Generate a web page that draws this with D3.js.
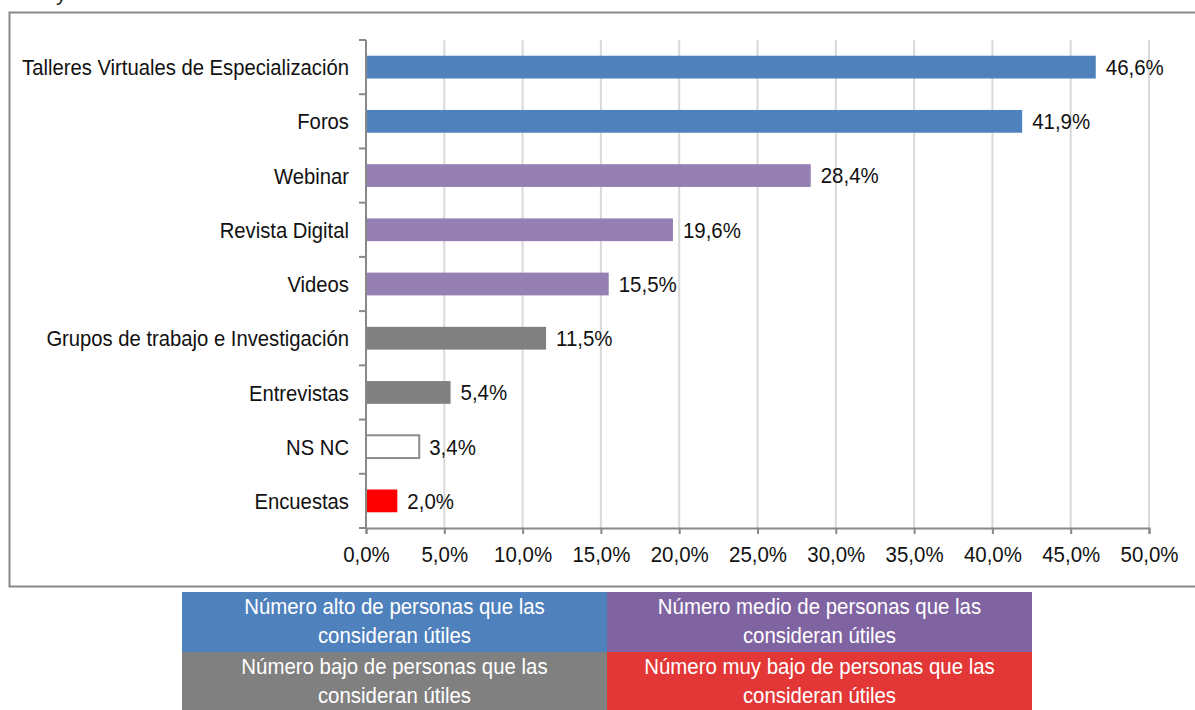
<!DOCTYPE html>
<html>
<head>
<meta charset="utf-8">
<script src="https://cdn.jsdelivr.net/npm/d3@7"></script>
<style>
  body { margin: 0; background: #fff; }
  svg { display: block; font-family: "Liberation Sans", Arial, sans-serif; }
</style>
</head>
<body>
<script>
// data
var categories = ["Talleres Virtuales de Especialización", "Foros", "Webinar", "Revista Digital",
  "Videos", "Grupos de trabajo e Investigación", "Entrevistas", "NS NC", "Encuestas"];
var values = [46.6, 41.9, 28.4, 19.6, 15.5, 11.5, 5.4, 3.4, 2.0];
var groups = ["alto", "alto", "medio", "medio", "medio", "bajo", "bajo", "nsnc", "muybajo"];
var xTicks = [0, 5, 10, 15, 20, 25, 30, 35, 40, 45, 50];
var legendLabels = [
  ["Número alto de personas que las", "consideran útiles"],
  ["Número medio de personas que las", "consideran útiles"],
  ["Número bajo de personas que las", "consideran útiles"],
  ["Número muy bajo de personas que las", "consideran útiles"]
];

var barFill = {alto: "#4f81bd", medio: "#967fb3", bajo: "#808080", nsnc: "#ffffff", muybajo: "#ff0000"};
var legendFill = ["#4f81bd", "#8064a2", "#808080", "#e33737"];

var width = 1195, height = 710;
var margin = {top: 40, left: 366, right: 1195 - 1149, bottom: 710 - 528};

// narrow-looking text: scale glyphs horizontally
function narrow(sel, sx) {
  return "scale(" + sx + ",1)";
}

var svg = d3.select("body").append("svg")
  .attr("width", width)
  .attr("height", height);

// fragment of text cut at the top
svg.append("text").attr("x", 56).attr("y", 1).attr("font-size", 21).attr("fill", "#222").text("y");

// outer frame
svg.append("rect")
  .attr("x", 9.5).attr("y", 12.5)
  .attr("width", 1200).attr("height", 574)
  .attr("fill", "none").attr("stroke", "#888").attr("stroke-width", 2);

var x = d3.scaleLinear().domain([0, 50]).range([margin.left, width - margin.right]);
var y = d3.scaleBand().domain(categories).range([margin.top, height - margin.bottom]).paddingInner(0.58).paddingOuter(0.29);

// gridlines
svg.append("g").selectAll("line")
  .data(xTicks.slice(1))
  .enter().append("line")
  .attr("x1", function(d) { return x(d); }).attr("x2", function(d) { return x(d); })
  .attr("y1", margin.top).attr("y2", height - margin.bottom)
  .attr("stroke", "#d9d9d9").attr("stroke-width", 2);

// bars
svg.append("g").selectAll("rect")
  .data(values)
  .enter().append("rect")
  .attr("x", x(0))
  .attr("y", function(d, i) { return y(categories[i]); })
  .attr("width", function(d) { return x(d) - x(0); })
  .attr("height", y.bandwidth())
  .attr("fill", function(d, i) { return barFill[groups[i]]; })
  .attr("stroke", function(d, i) { return groups[i] == "nsnc" ? "#8c8c8c" : "none"; })
  .attr("stroke-width", 2);

// value labels
svg.append("g").selectAll("text")
  .data(values)
  .enter().append("text")
  .attr("transform", function(d, i) {
    return "translate(" + (x(d) + 10) + "," + (y(categories[i]) + y.bandwidth() / 2) + ") scale(0.93,1)";
  })
  .attr("dy", "0.36em")
  .attr("font-size", 22)
  .attr("fill", "#111")
  .text(function(d) { return d.toFixed(1).replace(".", ",") + "%"; });

// x axis
var xAxis = svg.append("g")
  .attr("transform", "translate(0," + (height - margin.bottom) + ")")
  .call(d3.axisBottom(x).tickValues(xTicks).tickSize(6).tickPadding(12)
    .tickFormat(function(d) { return d.toFixed(1).replace(".", ",") + "%"; }));
xAxis.select(".domain").attr("stroke", "#888").attr("stroke-width", 2);
xAxis.selectAll(".tick line").attr("stroke", "#888").attr("stroke-width", 2);
xAxis.selectAll(".tick text").attr("font-size", 22).attr("fill", "#111").attr("font-family", null)
  .attr("transform", "scale(0.93,1)");

// y axis with ticks at category boundaries
var step = y.step();
var bounds = d3.range(categories.length + 1).map(function(i) { return margin.top + i * step; });
svg.append("line")
  .attr("x1", x(0)).attr("x2", x(0))
  .attr("y1", margin.top).attr("y2", height - margin.bottom)
  .attr("stroke", "#888").attr("stroke-width", 2);
svg.append("g").selectAll("line")
  .data(bounds)
  .enter().append("line")
  .attr("x1", x(0) - 7).attr("x2", x(0))
  .attr("y1", function(d) { return d; }).attr("y2", function(d) { return d; })
  .attr("stroke", "#888").attr("stroke-width", 2);
svg.append("g").selectAll("text")
  .data(categories)
  .enter().append("text")
  .attr("transform", function(d) {
    return "translate(" + (x(0) - 17) + "," + (y(d) + y.bandwidth() / 2) + ") scale(0.9,1)";
  })
  .attr("dy", "0.36em")
  .attr("text-anchor", "end")
  .attr("font-size", 22.5)
  .attr("fill", "#111")
  .text(function(d) { return d; });

// legend table
var lx = d3.scaleBand().domain([0, 1]).range([182, 1032]);
var ly = d3.scaleBand().domain([0, 1]).range([592, 712]);
var cells = svg.append("g").selectAll("g")
  .data(legendLabels)
  .enter().append("g")
  .attr("transform", function(d, i) { return "translate(" + lx(i % 2) + "," + ly(Math.floor(i / 2)) + ")"; });
cells.append("rect")
  .attr("width", lx.bandwidth()).attr("height", ly.bandwidth())
  .attr("fill", function(d, i) { return legendFill[i]; });
cells.each(function(d) {
  var g = d3.select(this);
  d.forEach(function(line, k) {
    g.append("text")
      .attr("transform", "translate(" + (lx.bandwidth() / 2) + "," + (22 + k * 29) + ") scale(0.95,1)")
      .attr("text-anchor", "middle")
      .attr("font-size", 21.5)
      .attr("fill", "#fff")
      .text(line);
  });
});
</script>
</body>
</html>
